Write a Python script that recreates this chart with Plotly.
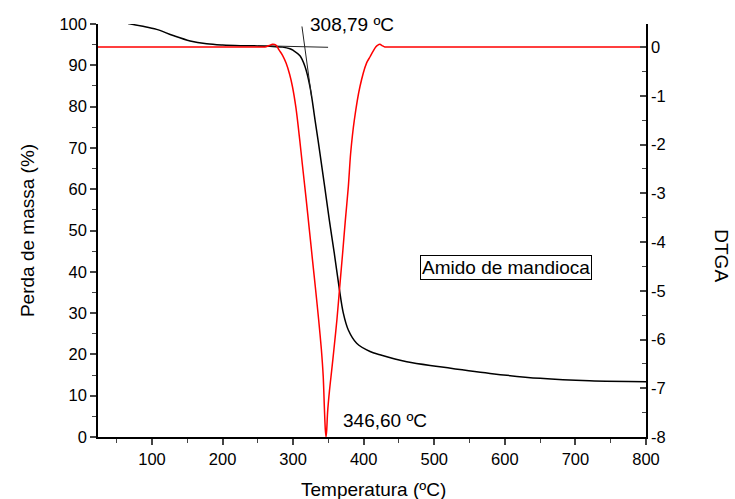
import plotly.graph_objects as go

# TGA curve (mass loss %) vs temperature (°C)
tga_temp = [66, 85, 106.6, 130, 154, 177.5, 200, 225, 250, 267, 285, 295.5, 300.3, 309.7, 316.8,
            323.9, 331, 338, 344.7, 351.3, 358.3, 365, 371.1, 378.2, 390, 409, 423, 461, 508,
            579, 650, 720, 800]
tga_mass = [100.1, 99.5, 98.7, 97.2, 95.9, 95.2, 94.9, 94.75, 94.7, 94.6, 94.4, 94.0, 93.6, 92.3, 89.7,
            84.8, 76.8, 68.7, 60.6, 52.5, 44.5, 36.4, 30.0, 25.9, 22.7, 20.7, 19.9, 18.2, 17.0,
            15.4, 14.2, 13.6, 13.4]

# DTGA curve vs temperature
dtg_temp = [23, 250, 260, 266, 271, 276, 280, 285, 290, 295, 299, 304, 309.3, 313, 318.3, 323, 327.3,
            332, 336.2, 340, 342.6, 344.4, 345.6, 346.6, 347.6, 348.8, 351.5, 354.5, 357.8, 362, 366,
            370, 374, 378.2, 381.5, 386.7, 394.7, 404, 409, 413.6, 417, 420, 423, 426, 430, 435, 800]
dtg_val = [0, 0, 0.0, 0.03, 0.055, 0.035, -0.06, -0.17, -0.33, -0.56, -0.81, -1.25, -1.9, -2.4,
           -3.1, -3.75, -4.35, -5.0, -5.6, -6.2, -6.75, -7.45, -7.85, -8.0, -7.85, -7.5, -7.05,
           -6.65, -6.2, -5.6, -4.92, -4.25, -3.55, -2.87, -2.18, -1.5, -0.81, -0.33, -0.2, -0.08,
           0.0, 0.04, 0.055, 0.03, 0.0, 0.0, 0]

# Tangent construction lines (onset)
base_t = [250, 349.5]
base_m = [94.75, 94.36]
slope_t = [312.5, 326.0]
slope_m = [99.4, 82.5]

# Axis ticks
x_ticks = [100, 200, 300, 400, 500, 600, 700, 800]
y_ticks = [0, 10, 20, 30, 40, 50, 60, 70, 80, 90, 100]
y2_ticks = [0, -1, -2, -3, -4, -5, -6, -7, -8]
y2_labels = ["0", "-1", "-2", "-3", "-4", "-5", "-6", "-7", "-8"]

FONT = "Liberation Sans, Arial, sans-serif"

fig = go.Figure()
fig.add_trace(go.Scatter(x=tga_temp, y=tga_mass, mode="lines", line=dict(color="black", width=1.5),
                         yaxis="y", showlegend=False, line_shape="spline"))
fig.add_trace(go.Scatter(x=base_t, y=base_m, mode="lines", line=dict(color="#222", width=1),
                         yaxis="y", showlegend=False))
fig.add_trace(go.Scatter(x=slope_t, y=slope_m, mode="lines", line=dict(color="#222", width=1),
                         yaxis="y", showlegend=False))
fig.add_trace(go.Scatter(x=dtg_temp, y=dtg_val, mode="lines", line=dict(color="#ff0000", width=1.5),
                         yaxis="y2", showlegend=False, line_shape="spline",
                         line_smoothing=0.8))

fig.update_layout(
    width=735, height=499,
    margin=dict(l=98, r=89, t=24, b=62),
    paper_bgcolor="white", plot_bgcolor="white",
    font=dict(family=FONT, size=17, color="black"),
    xaxis=dict(
        range=[23.5, 800], tickvals=x_ticks, ticks="outside", ticklen=6, tickwidth=1.5,
        showline=True, linewidth=1.5, linecolor="black", showgrid=False, zeroline=False,
        minor=dict(dtick=50, tick0=0, ticks="outside", ticklen=4, tickwidth=1.2),
        tickfont=dict(size=16.5),
    ),
    yaxis=dict(
        range=[0, 100], tickvals=y_ticks, ticks="outside", ticklen=6, tickwidth=1.5,
        showline=True, linewidth=1.5, linecolor="black", showgrid=False, zeroline=False,
        minor=dict(dtick=5, tick0=0, ticks="outside", ticklen=4, tickwidth=1.2),
        title=dict(text="Perda de massa (%)", font=dict(size=19), standoff=20),
        tickfont=dict(size=16.5),
    ),
    yaxis2=dict(
        range=[-8, 0.472], overlaying="y", side="right", anchor="x",
        tickvals=y2_ticks, ticktext=y2_labels, ticks="inside", ticklen=6, tickwidth=1.5,
        showline=True, linewidth=1.5, linecolor="black", showgrid=False, zeroline=False,
        minor=dict(dtick=0.5, tick0=0, ticks="inside", ticklen=4, tickwidth=1.2),
        tickfont=dict(size=16.5),
    ),
    annotations=[
        dict(x=0.502, y=-0.128, xref="paper", yref="paper", text="Temperatura (ºC)",
             showarrow=False, font=dict(size=19), xanchor="center", yanchor="middle"),
        dict(x=1.1387, y=0.44, xref="paper", yref="paper", text="DTGA", textangle=90,
             showarrow=False, font=dict(size=19), xanchor="center", yanchor="middle"),
        dict(x=383.4, y=99.9, xref="x", yref="y", text="308,79 ºC", showarrow=False,
             font=dict(size=19), xanchor="center", yanchor="middle"),
        dict(x=429.8, y=3.95, xref="x", yref="y", text="346,60 ºC", showarrow=False,
             font=dict(size=19), xanchor="center", yanchor="middle"),
        dict(x=601.6, y=41.0, xref="x", yref="y", text="Amido de mandioca", showarrow=False,
             font=dict(size=19), xanchor="center", yanchor="middle",
             bordercolor="black", borderwidth=1, borderpad=1, bgcolor="white"),
    ],
)

fig.write_html("out.html")
